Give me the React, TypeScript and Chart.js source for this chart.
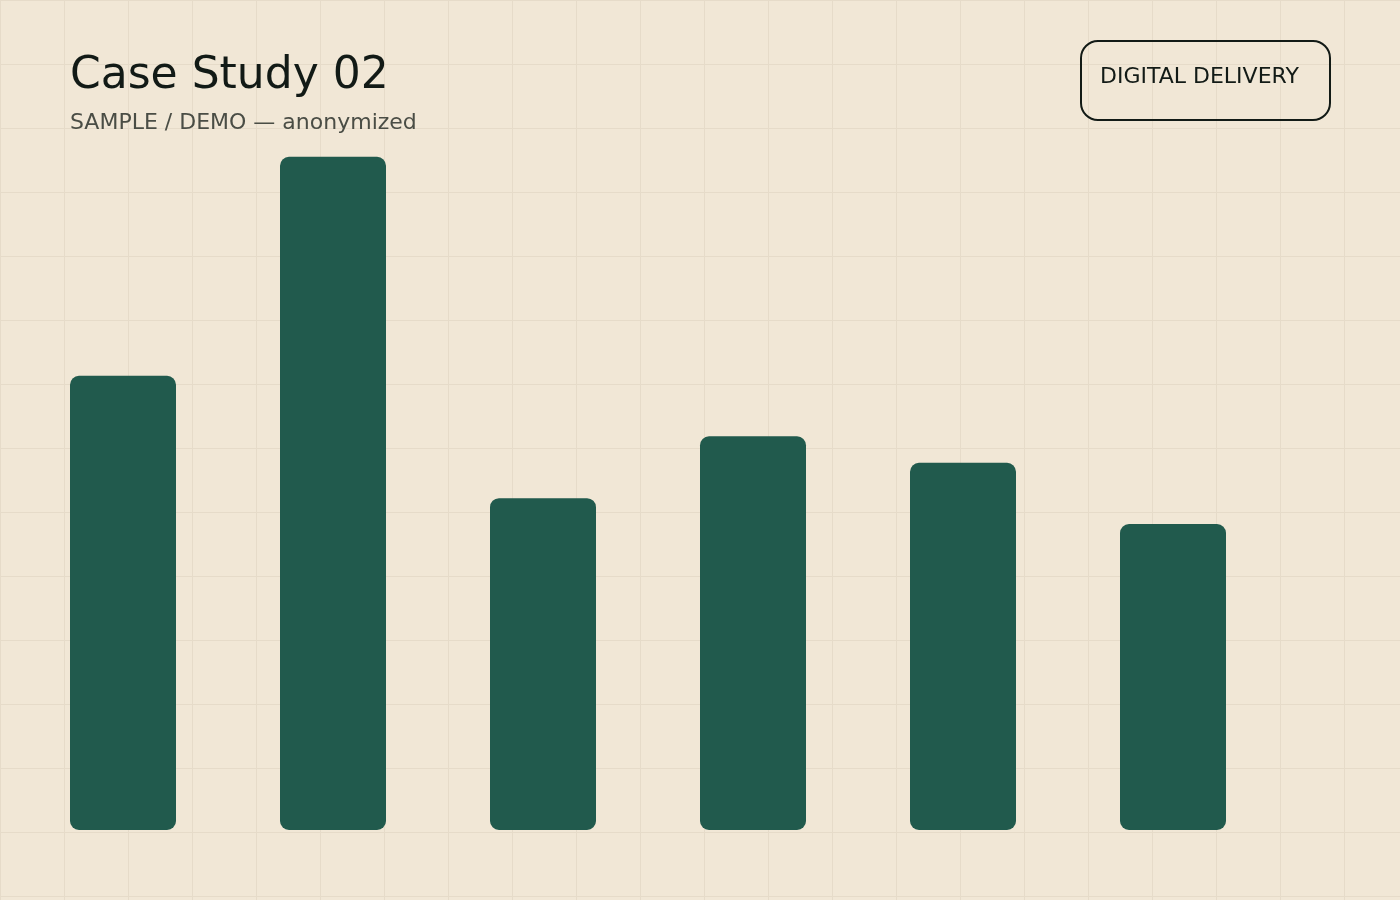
import React, { useEffect, useRef } from "react";
import { Chart, registerables } from "chart.js";

Chart.register(...registerables);

const categories = ["A", "B", "C", "D", "E", "F"];
const values = [66.8, 99.0, 48.8, 57.9, 54.0, 45.0];
const yMax = 100;

const TITLE = "Case Study 02";
const SUBTITLE = "SAMPLE / DEMO — anonymized";
const BADGE = "DIGITAL DELIVERY";

const BG = "#f1e7d6";
const GRID = "#e6dbc9";
const BAR = "#215a4d";
const INK = "#121a16";
const MUTED = "#4a4d45";

export default function App() {
  const canvasRef = useRef<HTMLCanvasElement | null>(null);

  useEffect(() => {
    const canvas = canvasRef.current;
    if (!canvas) return;
    const chart = new Chart(canvas, {
      type: "bar",
      data: {
        labels: categories,
        datasets: [
          {
            data: values,
            backgroundColor: BAR,
            borderRadius: 9,
            borderSkipped: false,
            categoryPercentage: 1,
            barPercentage: 106 / 210,
          },
        ],
      },
      options: {
        animation: false,
        responsive: false,
        maintainAspectRatio: false,
        layout: { padding: { left: 18, right: 122, top: 150, bottom: 70 } },
        plugins: { legend: { display: false }, tooltip: { enabled: false }, title: { display: false } },
        scales: {
          x: { display: false },
          y: { display: false, min: 0, max: yMax },
        },
      },
    });
    return () => chart.destroy();
  }, []);

  return (
    <div
      style={{
        position: "fixed",
        left: 0,
        top: 0,
        width: 1400,
        height: 900,
        backgroundColor: BG,
        backgroundImage: `linear-gradient(to right, ${GRID} 1.5px, transparent 1.5px), linear-gradient(to bottom, ${GRID} 1.5px, transparent 1.5px)`,
        backgroundSize: "64px 64px",
        backgroundPosition: "0 0",
        overflow: "hidden",
        fontFamily: "'DejaVu Sans', sans-serif",
      }}
    >
      <canvas
        ref={canvasRef}
        width={1400}
        height={900}
        style={{ position: "absolute", left: 0, top: 0, width: 1400, height: 900 }}
      />
      <div
        style={{
          position: "absolute",
          left: 70,
          top: 47,
          fontSize: 44,
          lineHeight: "52px",
          color: INK,
          whiteSpace: "nowrap",
        }}
      >
        {TITLE}
      </div>
      <div
        style={{
          position: "absolute",
          left: 70,
          top: 108,
          fontSize: 22,
          lineHeight: "28px",
          color: MUTED,
          whiteSpace: "nowrap",
        }}
      >
        {SUBTITLE}
      </div>
      <div
        style={{
          position: "absolute",
          left: 1080,
          top: 40,
          width: 251,
          height: 81,
          boxSizing: "border-box",
          border: `2px solid ${INK}`,
          borderRadius: 18,
        }}
      />
      <div
        style={{
          position: "absolute",
          left: 1100,
          top: 62,
          fontSize: 22,
          lineHeight: "28px",
          color: INK,
          whiteSpace: "nowrap",
        }}
      >
        {BADGE}
      </div>
    </div>
  );
}
